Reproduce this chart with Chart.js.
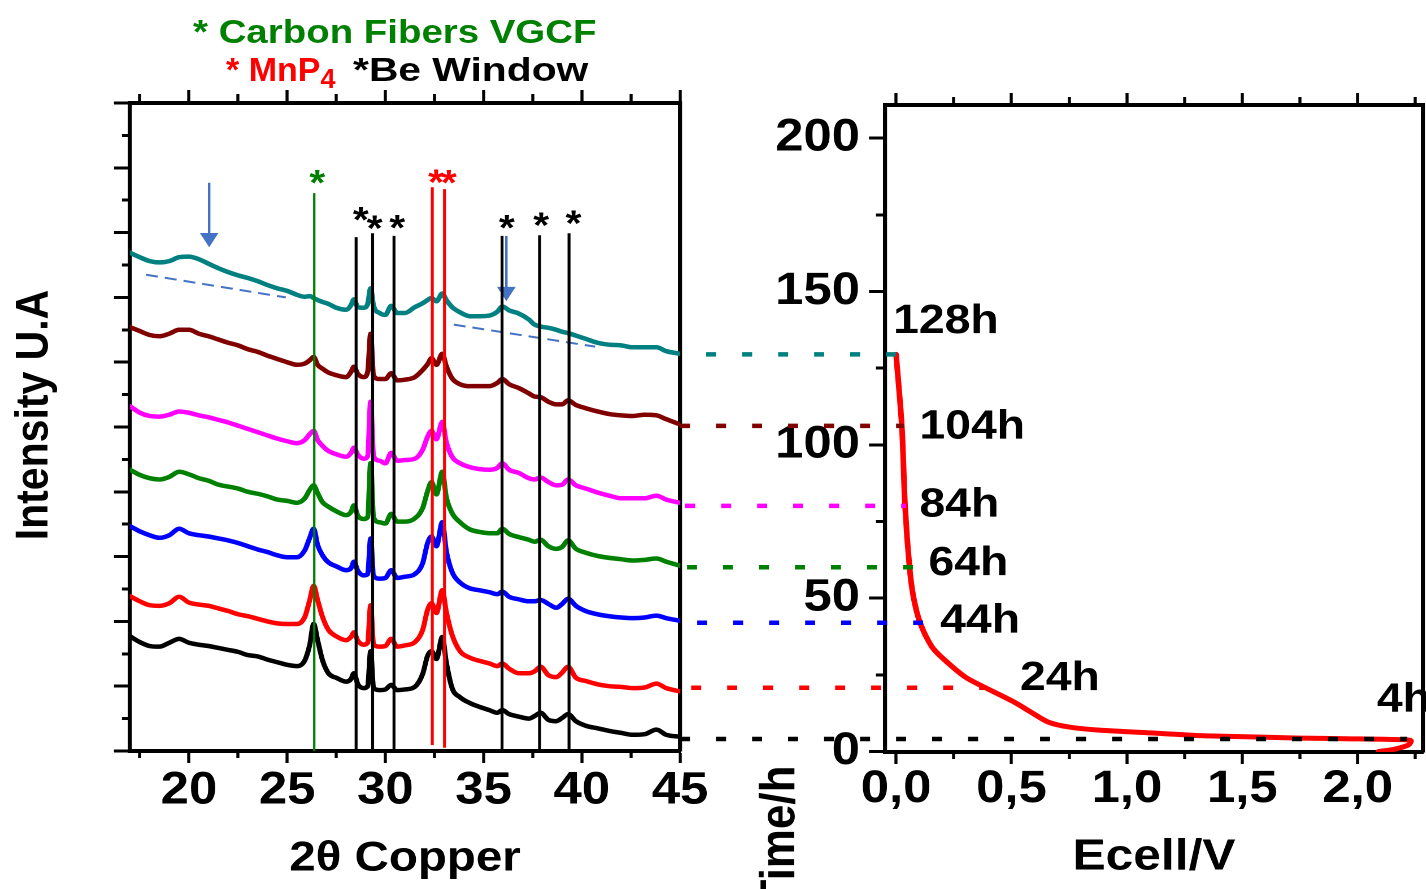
<!DOCTYPE html>
<html>
<head>
<meta charset="utf-8">
<script src="https://cdn.jsdelivr.net/npm/chart.js@4.4.1/dist/chart.umd.min.js"></script>
<style>
  html, body { margin: 0; padding: 0; background: #fff; }
  #wrap { position: relative; width: 1426px; height: 889px; overflow: hidden; }
  canvas { position: absolute; top: 0; transform: scaleX(1.13); transform-origin: 0 0; }
  #xrd { left: 0; }
  #ecell { left: 640px; }
  .head { position: absolute; font-family: 'Liberation Sans', Arial, sans-serif; font-weight: bold;
          font-size: 34px; line-height: 34px; white-space: pre; transform-origin: 0 0; }
  .head sub { font-size: 27px; vertical-align: -7px; line-height: 0; }
</style>
</head>
<body>
<div id="wrap">
  <canvas id="xrd" width="637" height="889"></canvas>
  <canvas id="ecell" width="696" height="889"></canvas>
  <div class="head" style="left:193px; top:14px; color:#008000; transform:scaleX(1.13)">* Carbon Fibers VGCF</div>
  <div class="head" style="left:226px; top:52px; color:#ff0000">* MnP<sub>4</sub></div>
  <div class="head" style="left:353px; top:52px; color:#000; transform:scaleX(1.2)">*Be Window</div>
</div>
<script>
// ---- XRD patterns (2theta, Cu), offset intensities in a.u.
const twoTheta = [17.0, 17.5, 18.0, 18.5, 19.0, 19.5, 20.0, 20.5, 21.0, 21.5, 22.0, 22.5, 23.0, 23.5, 24.0, 24.5,
  25.0, 25.5, 25.9, 26.15, 26.35, 26.55, 26.8, 27.1, 27.5, 28.0, 28.25, 28.4, 28.6, 28.9, 29.1, 29.25, 29.4, 29.7,
  30.0, 30.3, 30.6, 31.0, 31.5, 31.9, 32.15, 32.35, 32.6, 32.9, 33.1, 33.4, 33.8, 34.3, 34.8, 35.3, 35.7, 35.95,
  36.3, 36.8, 37.3, 37.6, 37.9, 38.3, 38.7, 39.0, 39.3, 39.7, 40.2, 40.8, 41.4, 42.0, 42.6, 43.2, 43.8, 44.3, 45.0];

const pattern128h = [7.69, 7.62, 7.56, 7.54, 7.56, 7.62, 7.63, 7.59, 7.52, 7.45,
  7.39, 7.34, 7.30, 7.25, 7.19, 7.14, 7.10, 7.04, 7.01, 7.02,
  6.99, 6.96, 6.93, 6.90, 6.84, 6.81, 6.88, 6.97, 6.85, 6.84,
  6.90, 7.14, 6.87, 6.76, 6.73, 6.87, 6.76, 6.76, 6.85, 6.91,
  6.96, 6.99, 6.94, 7.06, 6.96, 6.85, 6.77, 6.71, 6.71, 6.72,
  6.78, 6.86, 6.80, 6.75, 6.66, 6.58, 6.55, 6.53, 6.50, 6.47,
  6.45, 6.41, 6.36, 6.30, 6.27, 6.26, 6.23, 6.23, 6.23, 6.17, 6.13];
const pattern104h = [6.54, 6.48, 6.42, 6.40, 6.44, 6.50, 6.50, 6.44, 6.40, 6.35,
  6.30, 6.26, 6.20, 6.16, 6.10, 6.05, 6.00, 5.96, 5.98, 6.03,
  6.08, 5.96, 5.90, 5.84, 5.80, 5.77, 5.85, 5.93, 5.82, 5.77,
  5.85, 6.44, 5.79, 5.74, 5.74, 5.83, 5.72, 5.73, 5.77, 5.88,
  5.97, 6.06, 5.96, 6.13, 5.94, 5.75, 5.66, 5.63, 5.63, 5.63,
  5.68, 5.74, 5.66, 5.60, 5.52, 5.47, 5.46, 5.39, 5.35, 5.35,
  5.41, 5.34, 5.29, 5.24, 5.20, 5.18, 5.17, 5.19, 5.18, 5.12, 5.04];
const pattern84h = [5.32, 5.22, 5.17, 5.16, 5.19, 5.24, 5.22, 5.18, 5.15, 5.11,
  5.07, 5.02, 4.97, 4.92, 4.87, 4.82, 4.78, 4.75, 4.80, 4.89,
  4.94, 4.80, 4.71, 4.63, 4.58, 4.54, 4.60, 4.68, 4.57, 4.51,
  4.55, 5.39, 4.55, 4.48, 4.44, 4.60, 4.48, 4.49, 4.51, 4.65,
  4.85, 4.94, 4.81, 5.08, 4.77, 4.54, 4.44, 4.38, 4.35, 4.34,
  4.37, 4.44, 4.34, 4.29, 4.21, 4.19, 4.22, 4.15, 4.10, 4.11,
  4.19, 4.10, 4.05, 3.99, 3.94, 3.90, 3.90, 3.90, 3.94, 3.88, 3.83];
const pattern64h = [4.34, 4.26, 4.21, 4.19, 4.23, 4.31, 4.27, 4.21, 4.17, 4.11,
  4.08, 4.05, 4.00, 3.97, 3.93, 3.88, 3.86, 3.83, 3.90, 4.03,
  4.10, 3.98, 3.84, 3.77, 3.70, 3.64, 3.69, 3.79, 3.63, 3.58,
  3.61, 4.44, 3.60, 3.53, 3.51, 3.66, 3.54, 3.54, 3.59, 3.75,
  4.01, 4.15, 3.96, 4.31, 3.92, 3.67, 3.53, 3.42, 3.38, 3.36,
  3.36, 3.43, 3.35, 3.30, 3.26, 3.23, 3.26, 3.16, 3.12, 3.15,
  3.25, 3.12, 3.06, 3.01, 2.98, 2.96, 2.94, 2.95, 2.97, 2.92, 2.86];
const pattern44h = [3.47, 3.39, 3.33, 3.29, 3.33, 3.43, 3.36, 3.33, 3.31, 3.28,
  3.25, 3.21, 3.16, 3.11, 3.07, 3.02, 2.99, 2.99, 3.10, 3.29,
  3.43, 3.18, 3.02, 2.91, 2.85, 2.79, 2.82, 2.92, 2.78, 2.71,
  2.73, 3.28, 2.70, 2.66, 2.67, 2.79, 2.67, 2.69, 2.73, 2.90,
  3.21, 3.31, 3.16, 3.53, 3.09, 2.76, 2.60, 2.51, 2.48, 2.45,
  2.42, 2.46, 2.38, 2.34, 2.31, 2.31, 2.33, 2.27, 2.21, 2.27,
  2.35, 2.24, 2.16, 2.11, 2.08, 2.06, 2.05, 2.06, 2.09, 2.05, 2.01];
const pattern24h = [2.39, 2.31, 2.25, 2.24, 2.28, 2.38, 2.29, 2.26, 2.24, 2.20,
  2.16, 2.11, 2.08, 2.04, 2.00, 1.97, 1.96, 1.96, 2.07, 2.33,
  2.55, 2.33, 2.07, 1.87, 1.77, 1.71, 1.76, 1.83, 1.70, 1.64,
  1.67, 2.25, 1.64, 1.61, 1.62, 1.73, 1.61, 1.63, 1.68, 1.87,
  2.18, 2.28, 2.13, 2.48, 2.15, 1.79, 1.54, 1.44, 1.39, 1.35,
  1.31, 1.35, 1.27, 1.20, 1.20, 1.23, 1.30, 1.17, 1.14, 1.21,
  1.30, 1.13, 1.08, 1.03, 1.00, 0.99, 0.97, 0.98, 1.04, 0.97, 0.92];
const pattern4h = [1.77, 1.68, 1.62, 1.61, 1.67, 1.73, 1.67, 1.64, 1.62, 1.59,
  1.56, 1.53, 1.48, 1.46, 1.41, 1.37, 1.33, 1.31, 1.40, 1.64,
  1.96, 1.71, 1.40, 1.20, 1.13, 1.07, 1.11, 1.20, 1.03, 0.97,
  1.00, 1.54, 0.97, 0.94, 0.95, 1.02, 0.94, 0.95, 0.99, 1.19,
  1.47, 1.54, 1.42, 1.76, 1.37, 0.97, 0.83, 0.74, 0.68, 0.63,
  0.59, 0.63, 0.57, 0.53, 0.50, 0.54, 0.59, 0.48, 0.46, 0.51,
  0.57, 0.46, 0.39, 0.35, 0.31, 0.28, 0.25, 0.26, 0.33, 0.25, 0.22];

const scanLabels = ['128h', '104h', '84h', '64h', '44h', '24h', '4h'];
const scanColors = ['#008080', '#800000', '#ff00ff', '#008000', '#0000ff', '#ff0000', '#000000'];
const scanPatterns = [pattern128h, pattern104h, pattern84h, pattern64h, pattern44h, pattern24h, pattern4h];

// reference peak markers (VGCF, Be window, MnP4)
const refLineX = [26.38, 28.51, 29.35, 30.44, 32.39, 33.01, 35.94, 37.85, 39.35];
const refLineTop = [8.61, 7.93, 7.99, 7.95, 8.70, 8.67, 7.95, 7.96, 7.99];
const refLineBottom = [0, 0, 0, 0, 0.09, 0.05, 0, 0, 0];
const refLineColor = ['#008000', '#000000', '#000000', '#000000', '#ff0000', '#ff0000', '#000000', '#000000', '#000000'];
const starX = [26.53, 28.75, 29.45, 30.60, 32.58, 33.23, 36.18, 37.93, 39.58];
const starY = [8.87, 8.30, 8.17, 8.18, 8.88, 8.87, 8.18, 8.22, 8.25];

// blue arrows and background guide
const arrowX = [21.03, 36.16];
const arrowTop = [8.77, 7.95];
const arrowHead = [7.92, 7.09];
const baselineX = [17.82, 24.93, 33.48, 40.68];
const baselineY = [7.35, 7.00, 6.58, 6.24];

const thetaTicks = [17.5, 20, 22.5, 25, 27.5, 30, 32.5, 35, 37.5, 40, 42.5, 45];
const intensityTicks = [0, 0.5, 1, 1.5, 2, 2.5, 3, 3.5, 4, 4.5, 5, 5.5, 6, 6.5, 7, 7.5, 8, 8.5, 9, 9.5, 10];

// ---- discharge curve: time vs Ecell
const ecell = [2.09, 2.16, 2.22, 2.23, 2.18, 1.95, 1.75, 1.54, 1.32, 1.13, 0.88, 0.75, 0.66, 0.59, 0.51,
  0.38, 0.30, 0.21, 0.155, 0.104, 0.075, 0.058, 0.039, 0.025, 0.0];
const timeH = [0.0, 0.8, 2.2, 3.6, 3.9, 4.2, 4.4, 4.8, 5.2, 6.0, 7.0, 8.0, 9.6, 12.6, 16.2,
  21.1, 24.3, 29.9, 34.2, 42.0, 50.5, 60.3, 79.9, 105.9, 129.5];
const scanTimes = [129.5, 106.2, 80.1, 60.1, 42.0, 20.8, 4.1];
const guideStartV = [-0.823, -0.936, -0.914, -0.906, -0.862, -0.888, -0.936];
const guideEndV = [0.0, 0.033, 0.043, 0.074, 0.117, 0.394, 2.214];
const scanLabelV = [-0.013, 0.101, 0.101, 0.140, 0.191, 0.537, 2.083];
const scanLabelH = [141.4, 107.0, 81.5, 62.5, 43.8, 25.0, 17.9];

const ecellTicks = [0, 0.25, 0.5, 0.75, 1, 1.25, 1.5, 1.75, 2, 2.25];
const timeTicks = [0, 25, 50, 75, 100, 125, 150, 175, 200];

// ---------------------------------------------------------------
// canvases are stretched horizontally by SX (css), so horizontal sizes are divided by it
const SX = 1.13;
const ux = v => v / SX;
const FONT = "'Liberation Sans', Arial, Helvetica, sans-serif";
Chart.defaults.font.family = FONT;
Chart.defaults.color = '#000';

const isMult = (v, step) => Math.abs(v / step - Math.round(v / step)) < 1e-6;
const hBorder = { display: true, width: 4, color: '#000' };
const vBorder = { display: true, width: 3.6, color: '#000' };

// minor ticks drawn shorter with a dash on the tick segment
function gridFor(len, minorLen, step, outerFirst, width, half) {
  return {
    drawOnChartArea: false,
    tickLength: len,
    tickWidth: width,
    tickColor: '#000',
    tickBorderDash: c => (c.tick && !isMult(c.tick.value, step))
      ? (outerFirst ? [0, len - half - minorLen, minorLen, 200] : [minorLen, 200])
      : []
  };
}
const setTicks = list => a => { a.ticks = list.map(v => ({ value: v })); };

function textPlugin(items) {
  return {
    id: 'inkText',
    afterDatasetsDraw(chart) {
      const ctx = chart.ctx;
      items.forEach(t => {
        ctx.save();
        ctx.font = t.font;
        ctx.fillStyle = t.color || '#000';
        ctx.textAlign = t.align || 'center';
        ctx.textBaseline = 'alphabetic';
        const m = ctx.measureText(t.text);
        const x = t.px !== undefined ? t.px : chart.scales.x.getPixelForValue(t.x);
        const y = t.py !== undefined ? t.py : chart.scales.y.getPixelForValue(t.y);
        ctx.translate(x, y);
        if (t.rotation) ctx.rotate(t.rotation);
        ctx.fillText(t.text, 0, (m.actualBoundingBoxAscent - m.actualBoundingBoxDescent) / 2);
        ctx.restore();
      });
    }
  };
}

// ---- left panel
const xrdSets = [];
refLineX.forEach((x, i) => {
  xrdSets.push({
    data: [{ x: x, y: refLineBottom[i] }, { x: x, y: refLineTop[i] }],
    borderColor: refLineColor[i], borderWidth: i === 0 ? 2.1 : 2.6, pointRadius: 0
  });
});
arrowX.forEach((x, i) => {
  xrdSets.push({
    data: [{ x: x, y: arrowTop[i] }, { x: x, y: arrowHead[i] }],
    borderColor: '#4472c4', borderWidth: 2.2, pointRadius: 0
  });
  xrdSets.push({
    data: [{ x: x, y: arrowHead[i] }], showLine: false,
    pointStyle: 'triangle', pointRotation: 180, pointRadius: 9.5,
    pointBackgroundColor: '#4472c4', pointBorderWidth: 0
  });
});
scanPatterns.forEach((p, i) => {
  xrdSets.push({
    data: twoTheta.map((x, k) => ({ x: x, y: p[k] })),
    borderColor: scanColors[i], borderWidth: 4.5, pointRadius: 0,
    cubicInterpolationMode: 'monotone', borderJoinStyle: 'round', borderCapStyle: 'round'
  });
});
[0, 2].forEach(k => {
  xrdSets.push({
    data: [{ x: baselineX[k], y: baselineY[k] }, { x: baselineX[k + 1], y: baselineY[k + 1] }],
    borderColor: '#4472c4', borderWidth: 2, borderDash: [ux(12), ux(7)], pointRadius: 0
  });
});

const xrdText = starX.map((x, i) => ({
  text: '*', x: x, y: starY[i], font: 'bold 36px ' + FONT, color: refLineColor[i]
}));
xrdText.push({ text: 'Intensity U.A', px: ux(35), py: 415, rotation: -Math.PI / 2, font: 'bold 41px ' + FONT });

const xrdW = 637;
new Chart(document.getElementById('xrd'), {
  type: 'line',
  data: { datasets: xrdSets },
  options: {
    responsive: false, animation: false, events: [], devicePixelRatio: 2,
    layout: { padding: 0 },
    plugins: { legend: { display: false }, tooltip: { enabled: false } },
    scales: {
      x: {
        type: 'linear', position: 'bottom', min: 17, max: 45,
        afterBuildTicks: setTicks(thetaTicks),
        afterFit: a => { a.height = 138; },
        grid: gridFor(12, 5, 5, false, 2.7, 2), border: hBorder,
        ticks: { autoSkip: false, maxRotation: 0, minRotation: 0, padding: 5.5, color: '#000',
          font: { size: 45, weight: 'bold', lineHeight: 1 },
          callback: v => isMult(v, 5) ? String(v) : '' },
        title: { display: true, text: '2θ Copper', color: '#000',
          font: { size: 42, weight: 'bold' }, padding: { top: 0, bottom: 5 } }
      },
      xTop: {
        type: 'linear', position: 'top', min: 17, max: 45,
        afterBuildTicks: setTicks(thetaTicks),
        afterFit: a => { a.height = 103; },
        grid: gridFor(13, 7, 5, true, 2.7, 2), border: hBorder,
        ticks: { display: false }
      },
      y: {
        type: 'linear', position: 'left', min: 0, max: 10,
        afterBuildTicks: setTicks(intensityTicks),
        afterFit: a => { a.width = ux(130); },
        grid: gridFor(ux(16), ux(6), 1, true, 3, 1.8), border: vBorder,
        ticks: { display: false }
      },
      yRight: {
        type: 'linear', position: 'right', min: 0, max: 10,
        afterFit: a => { a.width = xrdW - ux(680); },
        grid: { display: false }, border: vBorder, ticks: { display: false }
      }
    }
  },
  plugins: [textPlugin(xrdText)]
});

// ---- right panel (canvas placed at page x = 640)
const ecellSets = [];
scanTimes.forEach((t, i) => {
  ecellSets.push({
    data: [{ x: guideStartV[i], y: t }, { x: guideEndV[i], y: t }],
    borderColor: scanColors[i], borderWidth: 4.5, borderDash: [ux(10), ux(26)], pointRadius: 0, clip: false
  });
});
ecellSets.push({
  data: ecell.map((v, k) => ({ x: v, y: timeH[k] })),
  borderColor: '#ff0000', borderWidth: 5, pointRadius: 0, tension: 0.3,
  borderJoinStyle: 'round', borderCapStyle: 'round'
});

const ecellText = scanLabels.map((s, i) => ({
  text: s, x: scanLabelV[i], y: scanLabelH[i], font: 'bold 41px ' + FONT, align: 'left'
}));
ecellText.push({ text: 'Time/h', px: ux(137), py: 836, rotation: -Math.PI / 2, font: 'bold 44px ' + FONT });

const ecellW = 696;
new Chart(document.getElementById('ecell'), {
  type: 'line',
  data: { datasets: ecellSets },
  options: {
    responsive: false, animation: false, events: [], devicePixelRatio: 2,
    layout: { padding: 0 },
    plugins: { legend: { display: false }, tooltip: { enabled: false } },
    scales: {
      x: {
        type: 'linear', position: 'bottom', min: -0.048, max: 2.283,
        afterBuildTicks: setTicks(ecellTicks),
        afterFit: a => { a.height = 137; },
        grid: gridFor(12, 5, 0.5, false, 2.7, 2), border: hBorder,
        ticks: { autoSkip: false, maxRotation: 0, minRotation: 0, padding: 3, color: '#000',
          font: { size: 45, weight: 'bold', lineHeight: 1 },
          callback: v => isMult(v, 0.5) ? v.toFixed(1).replace('.', ',') : '' },
        title: { display: true, text: 'Ecell/V', color: '#000',
          font: { size: 44, weight: 'bold' }, padding: { top: 0, bottom: 5 } }
      },
      xTop: {
        type: 'linear', position: 'top', min: -0.048, max: 2.283,
        afterBuildTicks: setTicks(ecellTicks),
        afterFit: a => { a.height = 105; },
        grid: gridFor(12, 6, 0.5, true, 2.7, 2), border: hBorder,
        ticks: { display: false }
      },
      y: {
        type: 'linear', position: 'left', min: -0.13, max: 210.8,
        afterBuildTicks: setTicks(timeTicks),
        afterFit: a => { a.width = ux(885 - 640); },
        grid: gridFor(ux(16), ux(7), 50, true, 3, 1.8), border: vBorder,
        ticks: { autoSkip: false, padding: ux(9), color: '#000',
          font: { size: 45, weight: 'bold' },
          callback: v => isMult(v, 50) ? String(v) : '' }
      },
      yRight: {
        type: 'linear', position: 'right', min: -0.13, max: 210.8,
        afterFit: a => { a.width = ecellW - ux(1423 - 640); },
        grid: { display: false }, border: vBorder, ticks: { display: false }
      }
    }
  },
  plugins: [textPlugin(ecellText)]
});
</script>
</body>
</html>
